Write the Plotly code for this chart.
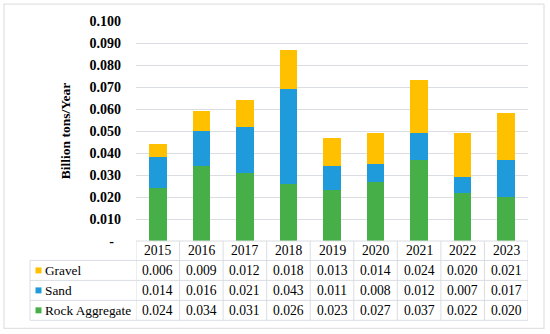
import plotly.graph_objects as go

years = ["2015", "2016", "2017", "2018", "2019", "2020", "2021", "2022", "2023"]
gravel = [0.006, 0.009, 0.012, 0.018, 0.013, 0.014, 0.024, 0.020, 0.021]
sand = [0.014, 0.016, 0.021, 0.043, 0.011, 0.008, 0.012, 0.007, 0.017]
rock = [0.024, 0.034, 0.031, 0.026, 0.023, 0.027, 0.037, 0.022, 0.020]
y_ticks = [0.0, 0.01, 0.02, 0.03, 0.04, 0.05, 0.06, 0.07, 0.08, 0.09, 0.10]
y_ticktext = ["-\u00a0\u00a0"] + [f"{v:.3f}" for v in y_ticks[1:]]

series = [("Rock Aggregate", rock, "#47AF47"),
          ("Sand", sand, "#1F9ADA"),
          ("Gravel", gravel, "#FFC000")]
table_rows = [("Gravel", gravel, "#FFC000"),
              ("Sand", sand, "#1F9ADA"),
              ("Rock Aggregate", rock, "#47AF47")]

W, H = 550, 334
L, R, T, B = 136, 22, 21, 92.5
PW, PH = W - L - R, H - T - B

def py(p):
    return (H - B - p) / PH

def px(p):
    return (p - L) / PW

FONT = "Liberation Serif, Times New Roman, serif"
GRID = "#DADDE2"
FS = 13.6

fig = go.Figure()
for name, vals, col in series:
    fig.add_trace(go.Bar(x=years, y=vals, name=name, marker=dict(color=col, line=dict(width=0))))

shapes = []
annotations = []
axis_y = H - B
row_lines = [261, 281, 301, 321]
shapes.append(dict(type="line", xref="paper", yref="paper", x0=0, x1=1, y0=py(axis_y), y1=py(axis_y),
                   line=dict(color=GRID, width=1)))
for ry in row_lines:
    shapes.append(dict(type="line", xref="paper", yref="paper", x0=px(30), x1=1, y0=py(ry), y1=py(ry),
                       line=dict(color=GRID, width=1)))
for i in range(len(years) + 1):
    shapes.append(dict(type="line", xref="x", yref="paper", x0=i - 0.5, x1=i - 0.5,
                       y0=py(axis_y), y1=py(321), line=dict(color=GRID, width=1)))
shapes.append(dict(type="line", xref="paper", yref="paper", x0=px(30), x1=px(30),
                   y0=py(261), y1=py(321), line=dict(color=GRID, width=1)))
shapes.append(dict(type="rect", xref="paper", yref="paper", x0=px(4), x1=px(544), y0=py(329), y1=py(4),
                   line=dict(color="#E2E2E2", width=1.2)))

for i, yr in enumerate(years):
    annotations.append(dict(x=i, y=py((axis_y + 261) / 2), xref="x", yref="paper", text=yr,
                            showarrow=False, xanchor="center", yanchor="middle",
                            font=dict(family=FONT, size=FS, color="#000")))
centers = [(261 + 281) / 2, (281 + 301) / 2, (301 + 321) / 2]
for (name, vals, col), cy in zip(table_rows, centers):
    shapes.append(dict(type="rect", xref="paper", yref="paper", x0=px(35.5), x1=px(41.5),
                       y0=py(cy + 3), y1=py(cy - 3), fillcolor=col, line=dict(width=0)))
    annotations.append(dict(x=px(42.5), y=py(cy), xref="paper", yref="paper", text=name,
                            showarrow=False, xanchor="left", yanchor="middle",
                            font=dict(family=FONT, size=13.3, color="#000")))
    for i, v in enumerate(vals):
        annotations.append(dict(x=i, y=py(cy), xref="x", yref="paper", text=f"{v:.3f}",
                                showarrow=False, xanchor="center", yanchor="middle",
                                font=dict(family=FONT, size=FS, color="#000")))

fig.update_layout(
    width=W, height=H, barmode="stack", bargap=0.595, showlegend=False,
    margin=dict(l=L, r=R, t=T, b=B, pad=0, autoexpand=False),
    paper_bgcolor="white", plot_bgcolor="white",
    shapes=shapes, annotations=annotations,
    xaxis=dict(type="category", range=[-0.5, 8.5], showticklabels=False, showgrid=False,
               zeroline=False, showline=False, ticks="", automargin=False),
    yaxis=dict(range=[0, 0.1], tickvals=y_ticks, ticktext=y_ticktext, showgrid=True,
               gridcolor=GRID, gridwidth=1.3, zeroline=False, showline=False, ticks="",
               ticklabelstandoff=14, automargin=False,
               tickfont=dict(family=FONT, size=14, color="#000", weight="bold"),
               title=dict(text="Billion tons/Year", standoff=15,
                          font=dict(family=FONT, size=13.5, color="#000", weight="bold"))),
)
fig.write_html("out.html", config={"displayModeBar": False},
               post_script="document.body.style.margin='0';document.body.style.overflow='hidden';")
